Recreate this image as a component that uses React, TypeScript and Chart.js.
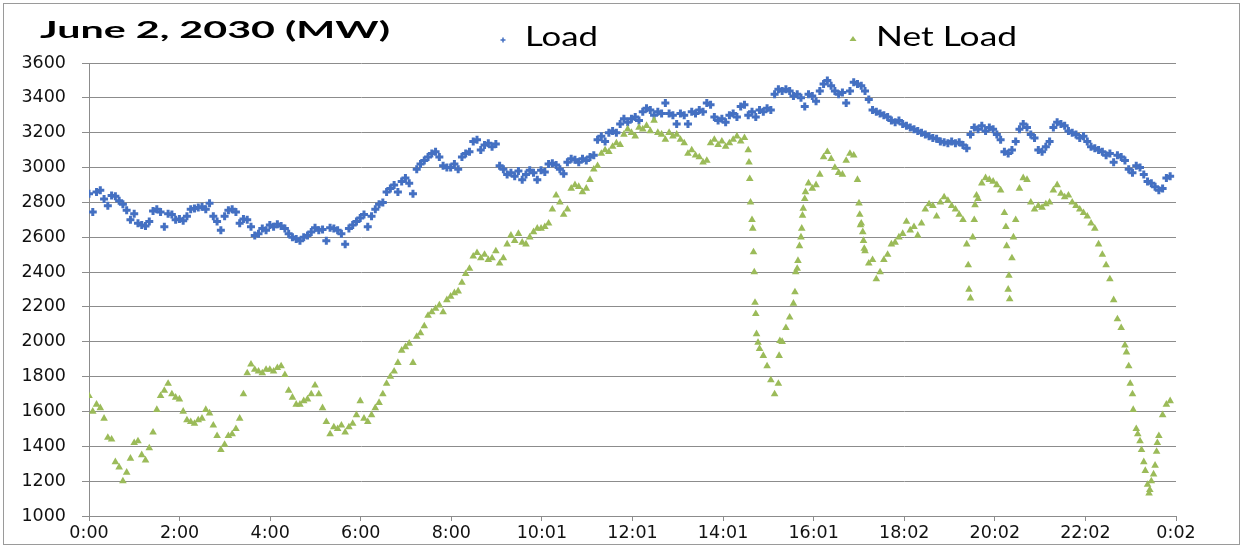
import { useEffect, useRef } from 'react';
import { Chart, registerables } from 'chart.js';

Chart.register(...registerables);

// ---------------- data ----------------
const TITLE = 'June 2, 2030 (MW)';
const SERIES_NAMES = ['Load', 'Net Load'];
const X_TICK_LABELS = ['0:00', '2:00', '4:00', '6:00', '8:00', '10:01', '12:01', '14:01', '16:01', '18:02', '20:02', '22:02', '0:02'];
const X_TICK_STEP_MIN = 120.23; // minutes between labelled ticks
const Y_MIN = 1000;
const Y_MAX = 3600;
const Y_STEP = 200;
const SAMPLE_STEP_MIN = 5; // one reading every 5 minutes, starting at 0:00

// Load (MW), 5-minute readings, one row per hour
const loadMW = [
  2850, 2745, 2860, 2870, 2820, 2780, 2840, 2835, 2810, 2790, 2755, 2700,
  2735, 2680, 2670, 2665, 2690, 2750, 2760, 2745, 2660, 2735, 2730, 2700,
  2705, 2695, 2720, 2760, 2765, 2770, 2775, 2760, 2795, 2720, 2690, 2640,
  2720, 2755, 2760, 2745, 2680, 2705, 2700, 2660, 2610, 2620, 2650, 2640,
  2670, 2660, 2675, 2665, 2650, 2620, 2600, 2590, 2580, 2600, 2610, 2630,
  2655, 2640, 2645, 2580, 2655, 2650, 2640, 2620, 2560, 2650, 2670, 2690,
  2710, 2730, 2660, 2720, 2760, 2790, 2800, 2860, 2880, 2900, 2860, 2920,
  2940, 2910, 2850, 2990, 3020, 3040, 3060, 3080, 3090, 3060, 3010, 3000,
  3000, 3020, 2990, 3060, 3080, 3090, 3150, 3160, 3100, 3130, 3140, 3120,
  3135, 3010, 2990, 2960, 2970, 2950, 2980, 2930, 2960, 2985, 2970, 2930,
  2985, 2975, 3020, 3025, 3015, 2990, 2965, 3030, 3050, 3045, 3030, 3050,
  3040, 3060, 3070, 3160, 3180, 3150, 3200, 3210, 3200, 3250, 3280, 3260,
  3280, 3290, 3270, 3320, 3340, 3330, 3300, 3320, 3310, 3370, 3310, 3300,
  3250, 3310, 3300, 3250, 3320, 3310, 3330, 3320, 3370, 3360, 3290, 3270,
  3280, 3260, 3300, 3310, 3290, 3350, 3360, 3300, 3320, 3290, 3330, 3320,
  3340, 3330, 3420, 3450, 3440, 3450, 3440, 3410, 3420, 3400, 3350, 3420,
  3410, 3380, 3440, 3480, 3500, 3470, 3440, 3420, 3430, 3370, 3440, 3490,
  3480, 3470, 3440, 3390, 3330, 3320, 3310, 3300, 3290, 3270, 3260, 3270,
  3250, 3240, 3230, 3220, 3210, 3200, 3190, 3180, 3170, 3165, 3150, 3145,
  3140, 3150, 3140, 3145, 3130, 3110, 3190, 3230, 3220, 3240, 3210, 3230,
  3220, 3190, 3160, 3090, 3080, 3100, 3150, 3220, 3250, 3230, 3190, 3170,
  3100, 3090, 3120, 3150, 3230, 3260, 3250, 3240, 3210, 3200, 3190, 3170,
  3180, 3150, 3120, 3110, 3100, 3090, 3070, 3080, 3030, 3070, 3060, 3040,
  2990, 2970, 3010, 3000, 2960, 2920, 2910, 2890, 2870, 2880, 2940, 2950,
];

// Net Load (MW), 5-minute readings, one row per hour
const netLoadMW = [
  1690, 1600, 1640, 1620, 1560, 1450, 1440, 1310, 1280, 1200, 1250, 1330,
  1420, 1430, 1350, 1320, 1390, 1480, 1610, 1690, 1720, 1760, 1700, 1680,
  1670, 1600, 1550, 1540, 1530, 1550, 1560, 1610, 1590, 1520, 1460, 1380,
  1410, 1460, 1470, 1500, 1560, 1700, 1820, 1870, 1840, 1830, 1820, 1840,
  1840, 1830, 1850, 1860, 1810, 1720, 1680, 1640, 1640, 1660, 1670, 1700,
  1750, 1700, 1620, 1540, 1470, 1510, 1500, 1520, 1480, 1510, 1530, 1580,
  1660, 1560, 1540, 1580, 1620, 1650, 1700, 1760, 1800, 1830, 1880, 1950,
  1970, 1990, 1880, 2030, 2050, 2090, 2150, 2170, 2190, 2210, 2170, 2240,
  2260, 2280, 2290, 2340, 2390, 2420, 2490, 2510, 2480, 2500, 2470, 2480,
  2520, 2450, 2480, 2560, 2610, 2580, 2620, 2570, 2560, 2600, 2630, 2650,
  2650, 2660, 2680, 2760, 2840, 2800, 2730, 2760, 2880, 2900, 2890, 2860,
  2880, 2930, 2990, 3010, 3080, 3100, 3090, 3120, 3140, 3130, 3190, 3220,
  3200, 3180, 3230, 3220, 3240, 3210, 3270, 3200, 3190, 3160, 3200, 3180,
  3190, 3160, 3140, 3080, 3100, 3070, 3060, 3030, 3040, 3140, 3160, 3130,
  3150, 3120, 3140, 3160, 3180, 3150, 3170, 3100, 2700, 2160, 1960, 1920,
  1860, 1780, 1700, 1760, 2000, 2080, 2140, 2220, 2420, 2600, 2820, 2910,
  2880, 2900, 2960, 3060, 3090, 3050, 3000, 2970, 2960, 3040, 3080, 3070,
  2930, 2680, 2520, 2450, 2470, 2360, 2400, 2470, 2500, 2560, 2570, 2600,
  2620, 2690, 2640, 2660, 2610, 2680, 2760, 2790, 2780, 2720, 2800, 2830,
  2810, 2780, 2760, 2730, 2700, 2560, 2250, 2700, 2820, 2910, 2940, 2930,
  2920, 2900, 2870, 2740, 2300, 2480, 2700, 2880, 2940, 2930, 2800, 2760,
  2780, 2770, 2790, 2800, 2870, 2900, 2850, 2830, 2840, 2800, 2780, 2760,
  2740, 2720, 2680, 2650, 2560, 2500, 2440, 2360, 2240, 2130, 2080, 1980,
  1860, 1700, 1500, 1430, 1310, 1180, 1200, 1290, 1460, 1580, 1640, 1660,
];

// extra Net Load readings on the steep ramps (minute of day, MW)
const netLoadExtraMinute = [
  876, 877, 878, 881, 882, 883, 884, 886, 888, 916, 917,
  937, 938, 941, 943, 946, 947, 948, 951,
  1022, 1023, 1024, 1027, 1028, 1029,
  1167, 1168, 1173, 1176, 1178,
  1217, 1218, 1221, 1222, 1227,
  1377, 1382, 1386, 1392, 1397, 1402, 1407, 1408, 1413, 1417, 1418,
];
const netLoadExtraMW = [
  3030, 2935, 2800, 2650, 2515, 2400, 2225, 2045, 1995, 1920, 2005,
  2285, 2400, 2465, 2550, 2650, 2725, 2765, 2860,
  2795, 2730, 2670, 2630, 2580, 2535,
  2440, 2300, 2600, 2785, 2840,
  2660, 2550, 2380, 2245, 2600,
  1940, 1760, 1610, 1470, 1380, 1260, 1130, 1150, 1240, 1370, 1420,
];

// ---------------- styles ----------------
const BLUE = '#4470c2';
const GREEN = '#9bbb59';
const GRID = '#8c8c8c';
const TICK_FONT = { family: '"DejaVu Sans", sans-serif', size: 17.5 };

function drawStretchedText(ctx: CanvasRenderingContext2D, text: string, x: number, baseline: number, targetWidth: number, font: string) {
  ctx.save();
  ctx.font = font;
  ctx.fillStyle = '#000';
  ctx.textBaseline = 'alphabetic';
  ctx.textAlign = 'left';
  const w = ctx.measureText(text).width || 1;
  ctx.translate(x, baseline);
  ctx.scale(targetWidth / w, 1);
  ctx.fillText(text, 0, 0);
  ctx.restore();
}

const decorPlugin = {
  id: 'decor',
  afterDraw(chart: any) {
    const ctx: CanvasRenderingContext2D = chart.ctx;
    ctx.save();
    // outer frame
    ctx.strokeStyle = '#9a9a9a';
    ctx.lineWidth = 1;
    ctx.strokeRect(3.5, 3.5, 1236, 541);

    // title
    drawStretchedText(ctx, TITLE, 40, 38, 350, 'bold 23px Lato, "Open Sans", sans-serif');

    // legend: Load
    ctx.strokeStyle = BLUE;
    ctx.lineWidth = 1.5;
    ctx.beginPath();
    ctx.moveTo(500.5, 40);
    ctx.lineTo(505.5, 40);
    ctx.moveTo(503, 37.5);
    ctx.lineTo(503, 42.5);
    ctx.stroke();
    drawStretchedText(ctx, SERIES_NAMES[0], 525, 46, 73, '26px Lato, "Open Sans", sans-serif');

    // legend: Net Load
    ctx.fillStyle = GREEN;
    ctx.beginPath();
    ctx.moveTo(853, 36);
    ctx.lineTo(856.5, 41);
    ctx.lineTo(849.5, 41);
    ctx.closePath();
    ctx.fill();
    drawStretchedText(ctx, SERIES_NAMES[1], 876, 46, 141, '26px Lato, "Open Sans", sans-serif');
    ctx.restore();
  },
};

export default function App() {
  const canvasRef = useRef<HTMLCanvasElement | null>(null);

  useEffect(() => {
    if (!canvasRef.current) return;

    const loadPoints = loadMW.map((v, i) => ({ x: i * SAMPLE_STEP_MIN, y: v }));
    const netPoints = netLoadMW
      .map((v, i) => ({ x: i * SAMPLE_STEP_MIN, y: v }))
      .concat(netLoadExtraMinute.map((m, i) => ({ x: m, y: netLoadExtraMW[i] })))
      .sort((a, b) => a.x - b.x);

    const xMax = (X_TICK_LABELS.length - 1) * X_TICK_STEP_MIN;

    const chart = new Chart(canvasRef.current, {
      type: 'scatter',
      data: {
        datasets: [
          {
            label: SERIES_NAMES[1],
            data: netPoints,
            pointStyle: 'triangle',
            pointRadius: 4.4,
            backgroundColor: GREEN,
            borderColor: GREEN,
            borderWidth: 0,
            order: 1,
          },
          {
            label: SERIES_NAMES[0],
            data: loadPoints,
            pointStyle: 'cross',
            pointRadius: 4,
            backgroundColor: BLUE,
            borderColor: BLUE,
            borderWidth: 3,
            order: 2,
          },
        ],
      },
      options: {
        responsive: false,
        animation: false,
        devicePixelRatio: 1,
        events: [],
        layout: { padding: { top: 63, right: 67, left: 0, bottom: 0 } },
        plugins: {
          legend: { display: false },
          title: { display: false },
          tooltip: { enabled: false },
        },
        scales: {
          x: {
            type: 'linear',
            min: 0,
            max: xMax,
            afterBuildTicks: (scale: any) => {
              scale.ticks = X_TICK_LABELS.map((_, i) => ({ value: i * X_TICK_STEP_MIN }));
            },
            afterFit: (scale: any) => {
              scale.height = 31;
            },
            ticks: {
              autoSkip: false,
              maxRotation: 0,
              minRotation: 0,
              padding: 2,
              color: '#111',
              font: TICK_FONT,
              callback: (_v: any, i: number) => X_TICK_LABELS[i],
            },
            grid: {
              drawOnChartArea: false,
              drawTicks: true,
              tickLength: 5,
              tickColor: GRID,
              color: GRID,
            },
            border: { display: true, color: GRID, width: 1 },
          },
          y: {
            min: Y_MIN,
            max: Y_MAX,
            afterFit: (scale: any) => {
              scale.width = 89;
            },
            ticks: {
              stepSize: Y_STEP,
              padding: 16,
              color: '#111',
              font: TICK_FONT,
              callback: (v: any) => String(v),
            },
            grid: {
              color: GRID,
              lineWidth: 1,
              tickLength: 7,
            },
            border: { display: true, color: GRID, width: 1 },
          },
        },
      },
      plugins: [decorPlugin],
    } as any);

    return () => chart.destroy();
  }, []);

  return (
    <div style={{ position: 'absolute', left: 0, top: 0, width: 1243, height: 547, background: '#fff' }}>
      <canvas ref={canvasRef} width={1243} height={547} style={{ display: 'block' }} />
    </div>
  );
}
